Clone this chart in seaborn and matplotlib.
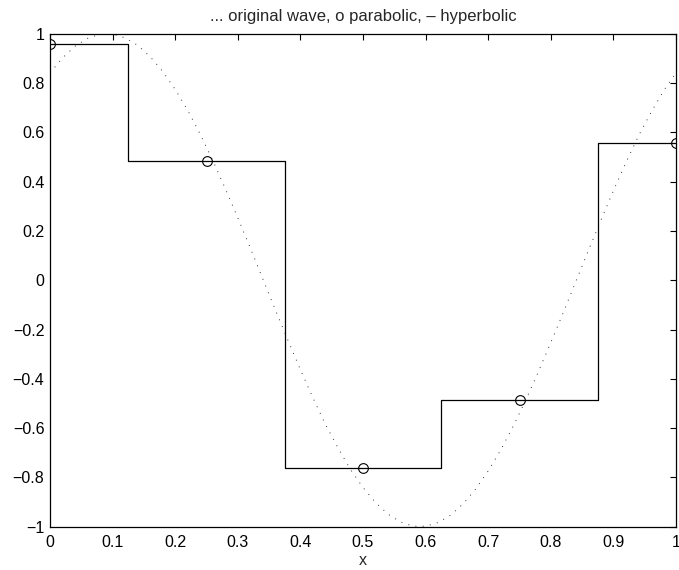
import numpy as np
import pandas as pd
import matplotlib
matplotlib.use("Agg")
import matplotlib.pyplot as plt
import seaborn as sns

# Original wave (dotted) at x step 0.02
wave_x = [0.00, 0.02, 0.04, 0.06, 0.08, 0.10, 0.12, 0.14, 0.16, 0.18,
          0.20, 0.22, 0.24, 0.26, 0.28, 0.30, 0.32, 0.34, 0.36, 0.38,
          0.40, 0.42, 0.44, 0.46, 0.48, 0.50, 0.52, 0.54, 0.56, 0.58,
          0.60, 0.62, 0.64, 0.66, 0.68, 0.70, 0.72, 0.74, 0.76, 0.78,
          0.80, 0.82, 0.84, 0.86, 0.88, 0.90, 0.92, 0.94, 0.96, 0.98, 1.00]
wave_y = [0.841, 0.902, 0.949, 0.981, 0.998, 0.998, 0.983, 0.953, 0.907, 0.847,
          0.774, 0.689, 0.592, 0.486, 0.372, 0.253, 0.131, 0.005, -0.120, -0.243,
          -0.363, -0.477, -0.585, -0.680, -0.768, -0.841, -0.902, -0.949, -0.981, -0.998,
          -0.998, -0.983, -0.953, -0.907, -0.847, -0.774, -0.689, -0.592, -0.486, -0.372,
          -0.253, -0.131, -0.005, 0.120, 0.243, 0.363, 0.477, 0.585, 0.680, 0.768, 0.841]

# Sample points (circles) and step (hyperbolic) values
sample_x = [0.0, 0.25, 0.5, 0.75, 1.0]
sample_y = [0.959, 0.484, -0.760, -0.484, 0.557]

title = "... original wave, o parabolic, \u2013 hyperbolic"
xticks = [0, 0.1, 0.2, 0.3, 0.4, 0.5, 0.6, 0.7, 0.8, 0.9, 1]
xticklabels = ["0", "0.1", "0.2", "0.3", "0.4", "0.5", "0.6", "0.7", "0.8", "0.9", "1"]
yticks = [-1, -0.8, -0.6, -0.4, -0.2, 0, 0.2, 0.4, 0.6, 0.8, 1]
yticklabels = ["\u22121", "\u22120.8", "\u22120.6", "\u22120.4", "\u22120.2", "0",
               "0.2", "0.4", "0.6", "0.8", "1"]

sns.set_theme(style="white")
plt.rcParams['font.family'] = ['Liberation Sans', 'DejaVu Sans']

fig = plt.figure(figsize=(6.79, 5.70), dpi=100)
ax = fig.add_axes([50/679, 1 - 526.7/570, (676 - 50)/679, (526.7 - 33.7)/570])

wave = pd.DataFrame({"x": wave_x, "y": wave_y})
samp = pd.DataFrame({"x": sample_x, "y": sample_y})

sns.lineplot(data=wave, x="x", y="y", ax=ax, color="0.2", lw=0.7,
             linestyle=(0, (1, 6.5)), estimator=None, sort=False)
sns.lineplot(data=samp, x="x", y="y", ax=ax, color="black", lw=0.9,
             drawstyle="steps-mid", estimator=None, sort=False)
sns.lineplot(data=samp, x="x", y="y", ax=ax, color="black", lw=0,
             marker="o", markersize=7, markerfacecolor="none",
             markeredgecolor="black", markeredgewidth=0.8,
             estimator=None, sort=False)

ax.set_xlim(0, 1)
ax.set_ylim(-1, 1)
ax.set_xticks(xticks)
ax.set_xticklabels(xticklabels)
ax.set_yticks(yticks)
ax.set_yticklabels(yticklabels)
ax.tick_params(direction="in", length=4.5, width=0.8, top=True, right=True,
               labelsize=11.5, colors="black")
ax.tick_params(axis="x", pad=6)
ax.tick_params(axis="y", pad=4)
for s in ax.spines.values():
    s.set_visible(True)
    s.set_color("black")
    s.set_linewidth(0.9)
ax.set_xlabel("x", fontsize=11.5, labelpad=2)
ax.set_ylabel("")
ax.set_title(title, fontsize=12, pad=9)
ax.grid(False)

fig.savefig("out.png", dpi=100)
